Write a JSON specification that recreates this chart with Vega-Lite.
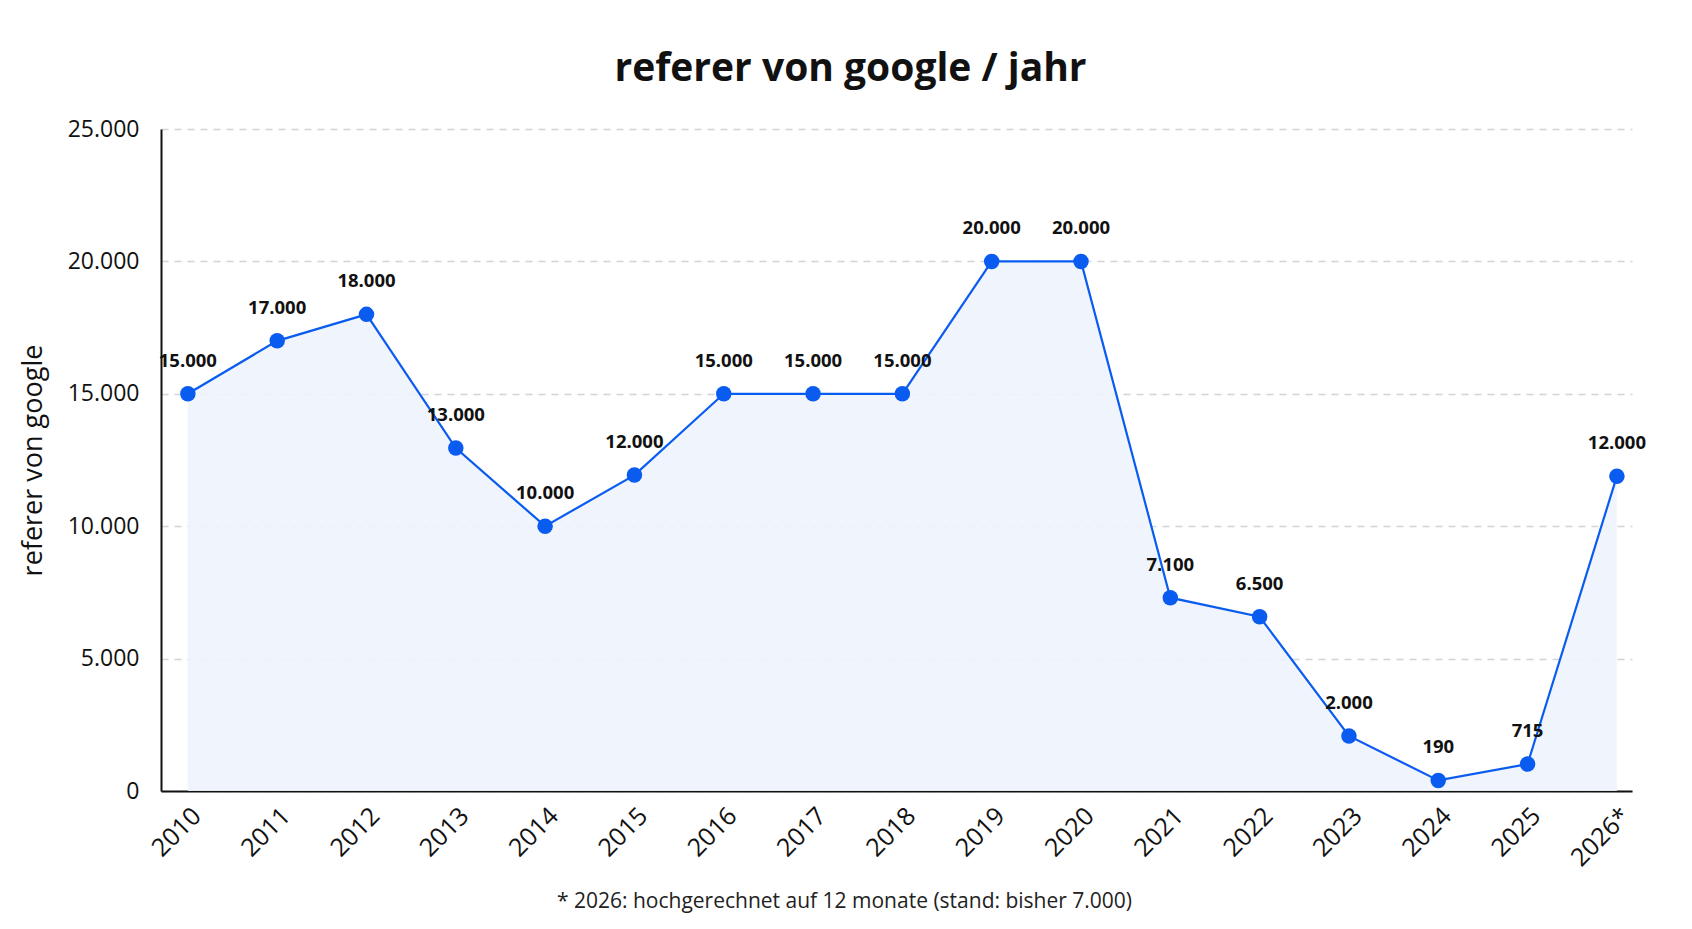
{
  "$schema": "https://vega.github.io/schema/vega-lite/v6.json",
  "width": 1471,
  "height": 662,
  "padding": {"left": 19, "top": 50, "right": 30, "bottom": 10},
  "background": "white",
  "title": {
    "text": "referer von google / jahr",
    "font": "Open Sans",
    "fontSize": 39,
    "fontWeight": "bold",
    "color": "#111111",
    "anchor": "middle",
    "dx": -46,
    "offset": 29
  },
  "data": {
    "values": [
      {"jahr": "2010", "referer": 15000, "label": "15.000"},
      {"jahr": "2011", "referer": 17000, "label": "17.000"},
      {"jahr": "2012", "referer": 18000, "label": "18.000"},
      {"jahr": "2013", "referer": 12950, "label": "13.000"},
      {"jahr": "2014", "referer": 10000, "label": "10.000"},
      {"jahr": "2015", "referer": 11930, "label": "12.000"},
      {"jahr": "2016", "referer": 15000, "label": "15.000"},
      {"jahr": "2017", "referer": 15000, "label": "15.000"},
      {"jahr": "2018", "referer": 15000, "label": "15.000"},
      {"jahr": "2019", "referer": 20000, "label": "20.000"},
      {"jahr": "2020", "referer": 20000, "label": "20.000"},
      {"jahr": "2021", "referer": 7300, "label": "7.100"},
      {"jahr": "2022", "referer": 6580, "label": "6.500"},
      {"jahr": "2023", "referer": 2080, "label": "2.000"},
      {"jahr": "2024", "referer": 400, "label": "190"},
      {"jahr": "2025", "referer": 1020, "label": "715"},
      {"jahr": "2026*", "referer": 11890, "label": "12.000"}
    ]
  },
  "encoding": {
    "x": {
      "field": "jahr",
      "type": "ordinal",
      "sort": null,
      "scale": {"type": "point", "padding": 0.235, "align": 0.64},
      "axis": {
        "title": "* 2026: hochgerechnet auf 12 monate (stand: bisher 7.000)",
        "titleFont": "Open Sans",
        "titleFontSize": 21,
        "titleFontWeight": "normal",
        "titleColor": "#222222",
        "titlePadding": 20,
        "titleX": 683,
        "labelAngle": -45,
        "labelFont": "Open Sans",
        "labelFontSize": 25,
        "labelColor": "#111111",
        "labelPadding": 12,
        "ticks": false,
        "domainColor": "#111111",
        "domainWidth": 2,
        "grid": false
      }
    },
    "y": {
      "field": "referer",
      "type": "quantitative",
      "scale": {"domain": [0, 25000]},
      "axis": {
        "title": "referer von google",
        "titleFont": "Open Sans",
        "titleFontSize": 27,
        "titleFontWeight": "normal",
        "titleColor": "#111111",
        "titlePadding": 20,
        "values": [0, 5000, 10000, 15000, 20000, 25000],
        "labelExpr": "replace(format(datum.value, ',d'), ',', '.')",
        "labelFont": "Open Sans",
        "labelFontSize": 23,
        "labelColor": "#111111",
        "labelPadding": 22,
        "ticks": false,
        "domainColor": "#111111",
        "domainWidth": 2,
        "grid": true,
        "gridColor": "#d4d4d4",
        "gridDash": [7, 6],
        "gridWidth": 1.3
      }
    }
  },
  "layer": [
    {
      "mark": {"type": "area", "color": "#eef3fd", "opacity": 0.9}
    },
    {
      "mark": {"type": "line", "color": "#0a5cf0", "strokeWidth": 2.2}
    },
    {
      "mark": {"type": "point", "filled": true, "color": "#0a5cf0", "size": 240, "opacity": 1}
    },
    {
      "mark": {
        "type": "text",
        "font": "Open Sans",
        "fontSize": 18.5,
        "fontWeight": "bold",
        "color": "#111111",
        "dy": -33,
        "baseline": "middle"
      },
      "encoding": {"text": {"field": "label"}}
    }
  ],
  "config": {"view": {"stroke": null}}
}
